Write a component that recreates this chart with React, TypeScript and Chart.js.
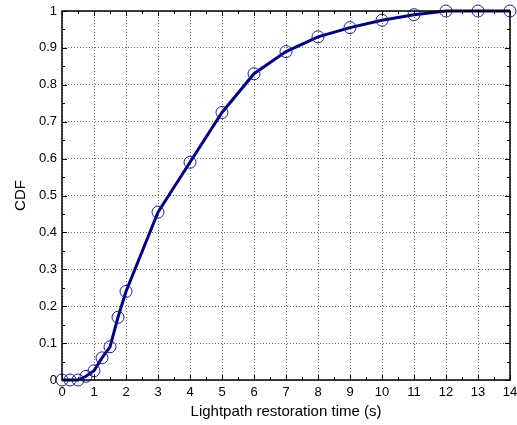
import React, { useEffect, useRef } from "react";
import { Chart, registerables } from "chart.js";

Chart.register(...registerables);

const timeSeconds = [0, 0.25, 0.5, 0.75, 1, 1.25, 1.5, 1.75, 2, 3, 4, 5, 6, 7, 8, 9, 10, 11, 12, 13, 14];
const cdfValues = [0, 0, 0, 0.01, 0.025, 0.06, 0.09, 0.17, 0.24, 0.455, 0.59, 0.725, 0.83, 0.89, 0.93, 0.955, 0.975, 0.99, 1, 1, 1];
const yTickLabels = ["0", "0.1", "0.2", "0.3", "0.4", "0.5", "0.6", "0.7", "0.8", "0.9", "1"];
const xTickLabels = ["0", "1", "2", "3", "4", "5", "6", "7", "8", "9", "10", "11", "12", "13", "14"];

const FONT = "'Liberation Sans', Arial, Helvetica, sans-serif";

const framePlugin = {
  id: "frameTicks",
  afterDatasetsDraw(chart: any) {
    const { ctx, chartArea, scales } = chart;
    const { left, right, top, bottom } = chartArea;
    const xs = scales.x;
    const ys = scales.y;
    ctx.save();
    ctx.strokeStyle = "#000";
    ctx.lineWidth = 1;
    ctx.beginPath();
    for (let v = 0; v <= 14.0001; v += 0.5) {
      const px = Math.round(xs.getPixelForValue(v)) + 0.5;
      const len = Math.abs(v - Math.round(v)) < 1e-6 ? 5 : 3;
      ctx.moveTo(px, bottom);
      ctx.lineTo(px, bottom - len);
      ctx.moveTo(px, top);
      ctx.lineTo(px, top + len);
    }
    for (let i = 0; i <= 20; i++) {
      const v = i * 0.05;
      const py = Math.round(ys.getPixelForValue(v)) + 0.5;
      const len = i % 2 === 0 ? 5 : 3;
      ctx.moveTo(left, py);
      ctx.lineTo(left + len, py);
      ctx.moveTo(right, py);
      ctx.lineTo(right - len, py);
    }
    ctx.stroke();
    ctx.lineWidth = 1.5;
    ctx.strokeRect(left, top, right - left, bottom - top);
    ctx.restore();
  },
};

export default function App() {
  const ref = useRef<HTMLCanvasElement>(null);
  useEffect(() => {
    document.body.style.margin = "0";
    const chart = new Chart(ref.current!, {
      type: "line",
      data: {
        datasets: [
          {
            data: timeSeconds.map((t, i) => ({ x: t, y: cdfValues[i] })),
            borderColor: "#000088",
            borderWidth: 3,
            tension: 0,
            pointStyle: "circle",
            pointRadius: 6,
            pointBorderWidth: 1,
            pointBorderColor: "#1a1ab8",
            pointBackgroundColor: "rgba(0,0,0,0)",
            fill: false,
            clip: false as any,
          },
        ],
      },
      options: {
        animation: false,
        responsive: false,
        maintainAspectRatio: false,
        layout: { padding: { top: 11, right: 7, left: 0, bottom: 0 } },
        plugins: { legend: { display: false }, tooltip: { enabled: false } },
        scales: {
          x: {
            type: "linear",
            min: 0,
            max: 14,
            afterFit: (s: any) => { s.height = 45; s.paddingRight = 0; s.paddingLeft = 0; },
            ticks: {
              stepSize: 1,
              autoSkip: false,
              maxRotation: 0,
              padding: 5,
              color: "#000",
              font: { family: FONT, size: 13 },
              callback: (v: any) => xTickLabels[Math.round(v)] ?? "",
            },
            grid: { color: "#444", drawTicks: false, lineWidth: 0.8 },
            border: { display: false, dash: [1, 2] },
            title: {
              display: true,
              text: "Lightpath restoration time (s)",
              color: "#000",
              font: { family: FONT, size: 15 },
              padding: { top: 0, bottom: 4 },
            },
          },
          y: {
            type: "linear",
            min: 0,
            max: 1,
            afterFit: (s: any) => { s.width = 62; s.paddingTop = 0; s.paddingBottom = 0; },
            ticks: {
              stepSize: 0.1,
              autoSkip: false,
              padding: 5,
              color: "#000",
              font: { family: FONT, size: 13 },
              callback: (v: any) => yTickLabels[Math.round(Number(v) * 10)] ?? "",
            },
            grid: { color: "#444", drawTicks: false, lineWidth: 0.8 },
            border: { display: false, dash: [1, 2] },
            title: {
              display: true,
              text: "CDF",
              color: "#000",
              font: { family: FONT, size: 15 },
              padding: { top: 12, bottom: 0 },
            },
          },
        },
      },
      plugins: [framePlugin],
    });
    return () => chart.destroy();
  }, []);
  return (
    <div style={{ width: 517, height: 425 }}>
      <canvas ref={ref} width={517} height={425} style={{ display: "block" }} />
    </div>
  );
}
